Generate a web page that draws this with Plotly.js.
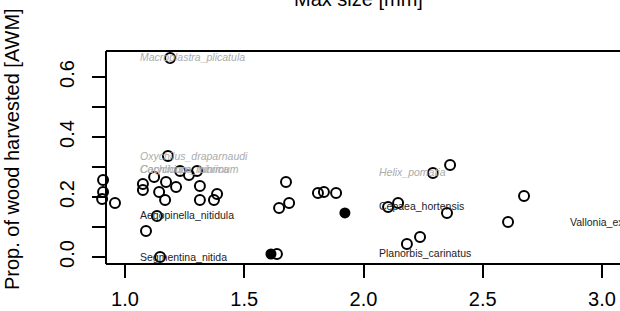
<!DOCTYPE html>
<html>
<head>
<meta charset="utf-8">
<script src="https://cdn.plot.ly/plotly-3.0.1.min.js"></script>
<style>
html,body{margin:0;padding:0;overflow:hidden;background:#fff;width:620px;height:311px;}
#chart{width:640px;height:311px;}
</style>
</head>
<body>
<div id="chart"></div>
<script>
// ---- data ----
const sizeOpen = [1.189,1.180,1.231,1.268,1.302,0.908,0.908,0.904,0.958,1.075,1.075,1.122,1.172,1.143,1.214,1.314,1.168,1.314,1.386,1.373,1.134,1.088,1.147,
                  1.675,1.688,1.646,1.809,1.834,1.885,1.637,2.103,2.145,2.291,2.363,2.182,2.237,2.350,2.673,2.606];
const propOpen = [0.663,0.337,0.287,0.273,0.287,0.257,0.217,0.193,0.180,0.243,0.223,0.267,0.250,0.217,0.233,0.237,0.190,0.190,0.210,0.190,0.137,0.087,0.000,
                  0.250,0.180,0.163,0.213,0.217,0.213,0.010,0.167,0.180,0.280,0.307,0.043,0.067,0.147,0.203,0.117];
const sizeFilled = [1.922,1.612];
const propFilled = [0.147,0.010];

const labelText = ["Macroplastra_plicatula","Oxychilus_draparnaudi","Carychium_minimum","Cochlicopa_lubrica",
                   "Aegopinella_nitidula","Segmentina_nitida","Helix_pomatia","Cepaea_hortensis","Planorbis_carinatus","Vallonia_excentrica"];
const labelX = [1.0545,1.0545,1.0545,1.0545,1.0545,1.0545,2.057,2.057,2.057,2.857];
const labelY = [0.667,0.337,0.293,0.293,0.140,0.000,0.283,0.170,0.013,0.117];
const labelGroup = ["ref","ref","ref","ref","main","main","ref","main","main","main"];

const xTickVals = [1.0,1.5,2.0,2.5,3.0];
const xTickText = ["1.0","1.5","2.0","2.5","3.0"];
const yTickVals = [0.0,0.1,0.2,0.3,0.4,0.5,0.6];
const yTickText = ["0.0","","0.2","","0.4","","0.6"];

const xTitle = "Max size [mm]";
const yTitle = "Prop. of wood harvested [AWM]";

// ---- drawing ----
const FONT = "Liberation Sans, Arial, Helvetica, sans-serif";
const W = 640, H = 311;
const mL = 96, mT = 51, mB = 47, mR = 0;
const pw = W - mL - mR, ph = H - mT - mB;
const boxLeftPx = 106;                 // where the left frame line sits
const pxPerUnit = 238.5;
const xStart = 0.9203 - (boxLeftPx - mL) / pxPerUnit;
const px2paperX = px => (px - mL) / pw;
const px2paperY = py => (H - mB - py) / ph;
const axisPos = px2paperX(boxLeftPx);

const traces = [
  {x: sizeOpen, y: propOpen, type: "scatter", mode: "markers", cliponaxis: false,
   marker: {symbol: "circle-open", size: 10, color: "#000", line: {width: 2, color: "#000"}}, hoverinfo: "skip"},
  {x: sizeFilled, y: propFilled, type: "scatter", mode: "markers", cliponaxis: false,
   marker: {symbol: "circle", size: 11, color: "#000", line: {width: 0}}, hoverinfo: "skip"}
];

const annotations = labelText.map((t, i) => ({
  text: t, x: labelX[i], y: labelY[i], xref: "x", yref: "y",
  xanchor: "left", yanchor: "middle", showarrow: false,
  font: labelGroup[i] === "ref"
    ? {family: FONT, size: 10.5, color: "#ababab", style: "italic"}
    : {family: FONT, size: 10.5, color: "#222"}
}));
annotations.push({text: xTitle, xref: "paper", yref: "paper",
  x: px2paperX(358), y: px2paperY(-1), xanchor: "center", yanchor: "middle",
  showarrow: false, font: {family: FONT, size: 20, color: "#000"}});
annotations.push({text: yTitle, xref: "paper", yref: "paper",
  x: px2paperX(12), y: px2paperY(149), xanchor: "center", yanchor: "middle",
  textangle: -90, showarrow: false, font: {family: FONT, size: 20, color: "#000"}});

const frame = {type: "line", xref: "paper", yref: "paper", layer: "above", line: {color: "#000", width: 2}};
const shapes = [
  Object.assign({}, frame, {x0: axisPos, x1: 1.05, y0: 0, y1: 0}),
  Object.assign({}, frame, {x0: axisPos, x1: 1.05, y0: 1, y1: 1})
];

const layout = {
  width: W, height: H,
  margin: {l: mL, r: mR, t: mT, b: mB, pad: 0},
  paper_bgcolor: "#fff", plot_bgcolor: "#fff",
  showlegend: false,
  font: {family: FONT, color: "#000"},
  xaxis: {range: [xStart, xStart + pw / pxPerUnit], tickvals: xTickVals, ticktext: xTickText,
    showgrid: false, zeroline: false, showline: false,
    ticks: "outside", ticklen: 13, tickwidth: 2, tickcolor: "#000",
    tickfont: {family: FONT, size: 20, color: "#000"}, ticklabelstandoff: 4},
  yaxis: {range: [-0.0233, 0.6867], tickvals: yTickVals, ticktext: yTickText,
    anchor: "free", position: axisPos, side: "left",
    showgrid: false, zeroline: false, showline: true, linecolor: "#000", linewidth: 2,
    ticks: "outside", ticklen: 13, tickwidth: 2, tickcolor: "#000", tickangle: -90,
    tickfont: {family: FONT, size: 20, color: "#000"}, ticklabelstandoff: 10},
  shapes: shapes,
  annotations: annotations
};

Plotly.newPlot("chart", traces, layout, {staticPlot: true, displayModeBar: false});
</script>
</body>
</html>
